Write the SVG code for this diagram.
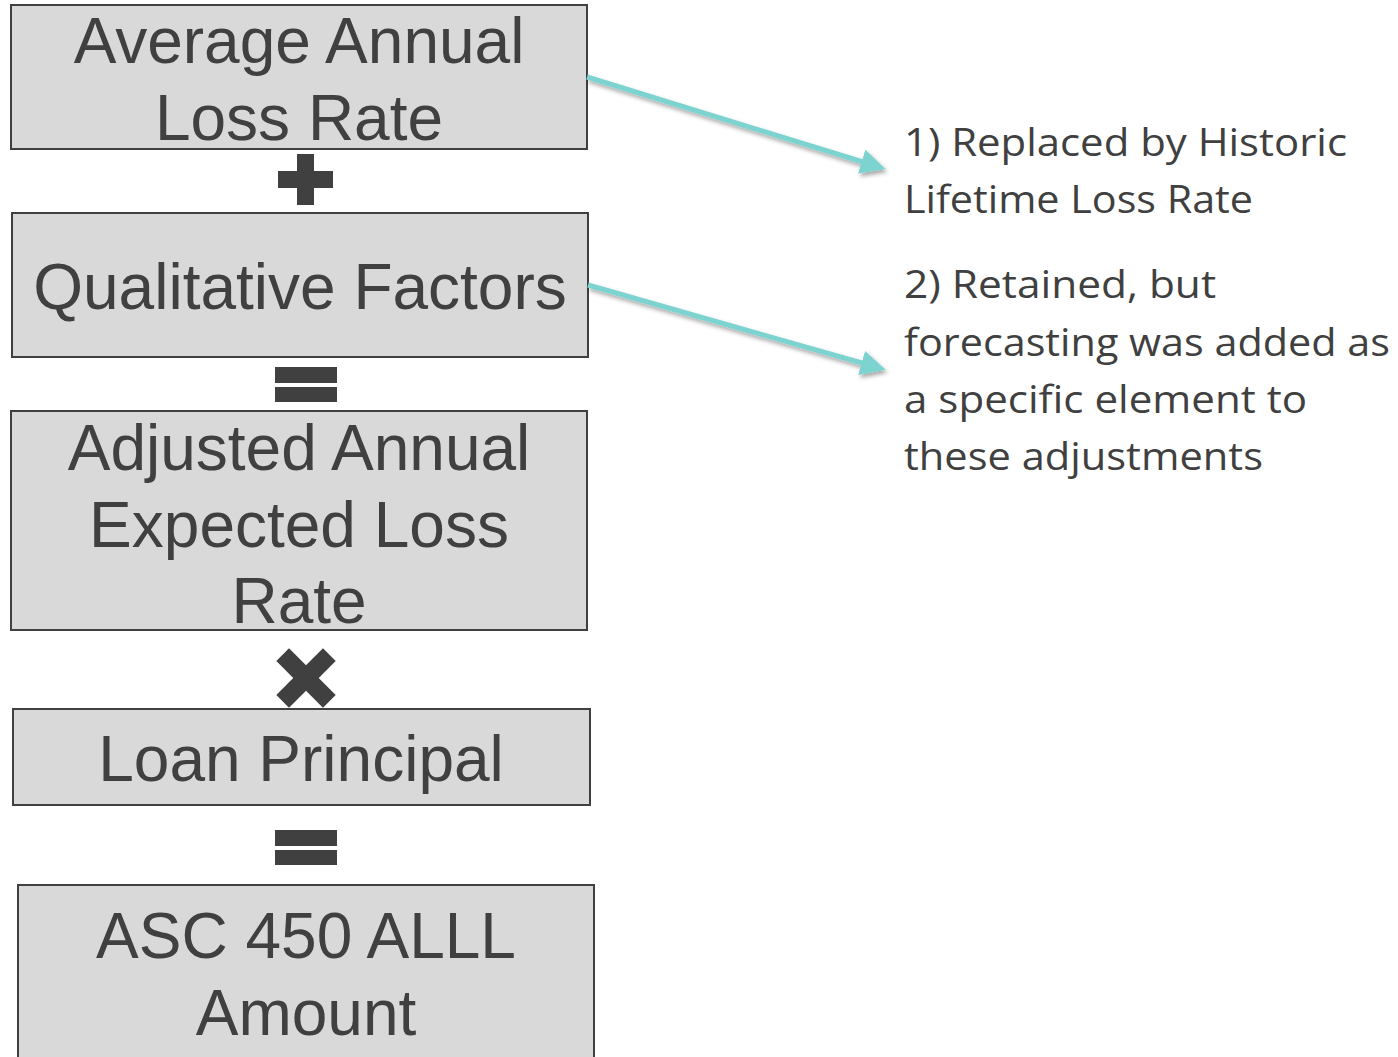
<svg xmlns="http://www.w3.org/2000/svg" width="1398" height="1057" viewBox="0 0 1398 1057">
<defs>
<style>
.box{fill:#d9d9d9;stroke:#404040;stroke-width:2}
.bt{font-family:"Liberation Sans",Arial,sans-serif;font-size:64px;fill:#404040;text-anchor:middle}
.op{fill:#404040}
.nt{font-family:"Open Sans","Noto Sans",sans-serif;font-size:39px;fill:#404040}
.conn{stroke:#7dd3d0;stroke-width:5;fill:none;marker-end:url(#ah)}
</style>
<marker id="ah" markerWidth="5" markerHeight="5" refX="3" refY="2.5" orient="auto" markerUnits="strokeWidth">
<path d="M0,0 L5,2.5 L0,5 Z" fill="#7dd3d0"/>
</marker>
<filter id="sh" x="-10%" y="-50%" width="120%" height="200%">
<feDropShadow dx="2" dy="3" stdDeviation="2" flood-color="#000" flood-opacity="0.35"/>
</filter>
</defs>
<rect width="1398" height="1057" fill="#fff"/>
<g id="node1"><rect class="box" x="11" y="5" width="576" height="144"/>
<text class="bt" x="299" y="63">Average Annual</text><text class="bt" x="299" y="140">Loss Rate</text></g>
<g id="plus"><rect class="op" x="297" y="154" width="17" height="51"/><rect class="op" x="278" y="171" width="55" height="17"/></g>
<g id="node2"><rect class="box" x="12" y="213" width="576" height="144"/>
<text class="bt" x="300" y="309">Qualitative Factors</text></g>
<g id="eq1"><rect class="op" x="275" y="367" width="62" height="16"/><rect class="op" x="275" y="387" width="62" height="15"/></g>
<g id="node3"><rect class="box" x="11" y="411" width="576" height="219"/>
<text class="bt" x="299" y="470">Adjusted Annual</text><text class="bt" x="299" y="547">Expected Loss</text><text class="bt" x="299" y="623">Rate</text></g>
<g id="times"><g transform="translate(306 678) rotate(45)"><rect class="op" x="-33" y="-9" width="66" height="18"/><rect class="op" x="-9" y="-33" width="18" height="66"/></g></g>
<g id="node4"><rect class="box" x="13" y="709" width="577" height="96"/>
<text class="bt" x="301" y="781">Loan Principal</text></g>
<g id="eq2"><rect class="op" x="275" y="830" width="62" height="16"/><rect class="op" x="275" y="850" width="62" height="15"/></g>
<g id="node5"><rect class="box" x="18" y="885" width="576" height="180"/>
<text class="bt" x="306" y="958">ASC 450 ALLL</text><text class="bt" x="306" y="1035">Amount</text></g>
<g id="connectors" filter="url(#sh)">
<line class="conn" x1="587" y1="77" x2="876" y2="166"/>
<line class="conn" x1="588" y1="285" x2="876" y2="367"/>
</g>
<g id="notes">
<text class="nt" x="904" y="156" textLength="443" lengthAdjust="spacingAndGlyphs">1) Replaced by Historic</text>
<text class="nt" x="904" y="213" textLength="349" lengthAdjust="spacingAndGlyphs">Lifetime Loss Rate</text>
<text class="nt" x="904" y="298" textLength="312" lengthAdjust="spacingAndGlyphs">2) Retained, but</text>
<text class="nt" x="904" y="356" textLength="486" lengthAdjust="spacingAndGlyphs">forecasting was added as</text>
<text class="nt" x="904" y="413" textLength="403" lengthAdjust="spacingAndGlyphs">a specific element to</text>
<text class="nt" x="904" y="470" textLength="359" lengthAdjust="spacingAndGlyphs">these adjustments</text>
</g>
</svg>
